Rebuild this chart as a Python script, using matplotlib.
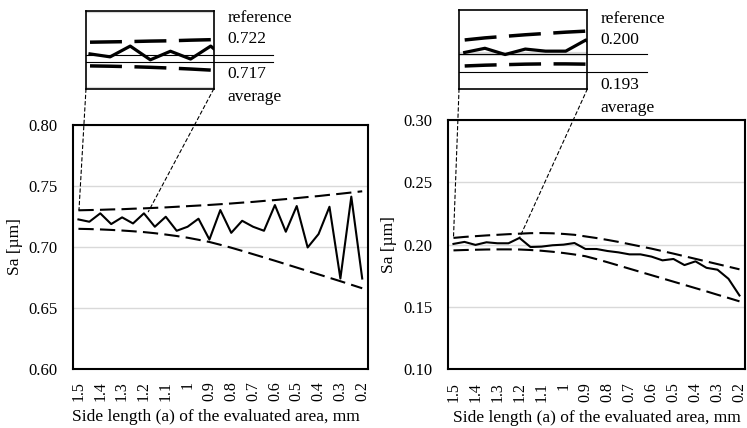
import matplotlib
matplotlib.use("Agg")
import matplotlib.pyplot as plt
from matplotlib.patches import ConnectionPatch

plt.rcParams['font.family'] = ['Liberation Serif', 'DejaVu Serif']
plt.rcParams['lines.scale_dashes'] = False

# side length of the evaluated area, mm (1.5 ... 0.2, step 0.05)
side_length = [1.5, 1.45, 1.4, 1.35, 1.3, 1.25, 1.2, 1.15, 1.1, 1.05, 1.0, 0.95, 0.9,
               0.85, 0.8, 0.75, 0.7, 0.65, 0.6, 0.55, 0.5, 0.45, 0.4, 0.35, 0.3, 0.25, 0.2]
tick_labels = ["1.5", "1.4", "1.3", "1.2", "1.1", "1", "0.9", "0.8", "0.7",
               "0.6", "0.5", "0.4", "0.3", "0.2"]

# left chart
sa_left = [0.7225, 0.7206, 0.7275, 0.7187, 0.7242, 0.7192, 0.7275, 0.7165, 0.7247,
           0.7132, 0.7165, 0.7231, 0.7060, 0.7302, 0.7115, 0.7214, 0.7165, 0.7132,
           0.7343, 0.7124, 0.7335, 0.6995, 0.7105, 0.7329, 0.6740, 0.7412, 0.6740]
upper_left = [0.7300, 0.7302, 0.7304, 0.7307, 0.7309, 0.7313, 0.7316, 0.7320, 0.7324,
              0.7329, 0.7334, 0.7339, 0.7344, 0.7350, 0.7356, 0.7363, 0.7369, 0.7377,
              0.7384, 0.7392, 0.7400, 0.7409, 0.7417, 0.7427, 0.7436, 0.7446, 0.7456]
lower_left = [0.7148, 0.7146, 0.7143, 0.7139, 0.7134, 0.7128, 0.7121, 0.7112, 0.7101,
              0.7089, 0.7075, 0.7058, 0.7040, 0.7017, 0.6993, 0.6967, 0.6940, 0.6913,
              0.6886, 0.6858, 0.6830, 0.6802, 0.6774, 0.6746, 0.6718, 0.6689, 0.6660]
ref_left = 0.722
avg_left = 0.717

# right chart
sa_right = [0.2006, 0.2022, 0.1998, 0.2019, 0.2011, 0.2011, 0.2054, 0.1981, 0.1984,
            0.1995, 0.2000, 0.2013, 0.1965, 0.1965, 0.1949, 0.1938, 0.1922, 0.1922,
            0.1904, 0.1874, 0.1885, 0.1836, 0.1866, 0.1814, 0.1799, 0.1726, 0.1592]
upper_right = [0.2054, 0.2062, 0.2068, 0.2074, 0.2079, 0.2084, 0.2088, 0.2092, 0.2093,
               0.2091, 0.2086, 0.2079, 0.2066, 0.2053, 0.2038, 0.2022, 0.2004, 0.1986,
               0.1968, 0.1948, 0.1928, 0.1907, 0.1886, 0.1865, 0.1844, 0.1823, 0.1802]
lower_right = [0.1954, 0.1957, 0.1959, 0.1961, 0.1962, 0.1962, 0.1961, 0.1957, 0.1951,
               0.1943, 0.1933, 0.1921, 0.1907, 0.1884, 0.1859, 0.1833, 0.1807, 0.1781,
               0.1755, 0.1729, 0.1703, 0.1677, 0.1651, 0.1625, 0.1598, 0.1572, 0.1545]
ref_right = 0.200
avg_right = 0.193

fig = plt.figure(figsize=(7.47, 4.28), dpi=100)

x = list(range(len(side_length)))
grid_c = '#d9d9d9'


def main_panel(rect, sa, up, lo, yticks, xlab_x, ylab_x):
    ax = fig.add_axes(rect)
    ax.plot(x, up, color='black', lw=1.5, dashes=(11, 4.5), zorder=3)
    ax.plot(x, lo, color='black', lw=1.5, dashes=(11, 4.5), zorder=3)
    ax.plot(x, sa, color='black', lw=1.5, zorder=4)
    ax.set_xlim(-0.5, len(x) - 0.5)
    ax.set_ylim(yticks[0], yticks[-1])
    ax.set_yticks(yticks)
    ax.set_yticklabels(["%.2f" % v for v in yticks], fontsize=12)
    ax.set_xticks(x[::2])
    ax.set_xticklabels(tick_labels, rotation=90, fontsize=11.5)
    ax.tick_params(axis='both', length=0)
    ax.tick_params(axis='y', pad=11)
    ax.tick_params(axis='x', pad=9)
    ax.yaxis.grid(True, color=grid_c, lw=1)
    ax.set_axisbelow(True)
    for s in ax.spines.values():
        s.set_linewidth(1.5)
        s.set_color('black')
    ax.set_xlabel("Side length (a) of the evaluated area, mm", fontsize=12.5, va='center')
    ax.xaxis.set_label_coords(xlab_x, -0.197)
    ax.set_ylabel("Sa [\u00b5m]", fontsize=12.5, va='center')
    ax.yaxis.set_label_coords(ylab_x, 0.5)
    return ax


def inset_panel(rect, sa, up, lo, xlim, ylim, yticks, ref, avg, line_len):
    ai = fig.add_axes(rect)
    ai.plot(x, up, color='black', lw=2.5, dashes=(23, 9))
    ai.plot(x, lo, color='black', lw=2.5, dashes=(23, 9))
    ai.plot(x, sa, color='black', lw=2.3)
    ai.set_xlim(*xlim)
    ai.set_ylim(*ylim)
    ai.set_yticks(yticks)
    ai.yaxis.grid(True, color=grid_c, lw=3)
    ai.set_axisbelow(True)
    ai.set_xticks([])
    ai.tick_params(axis='y', length=0, labelleft=False)
    for s in ai.spines.values():
        s.set_linewidth(1.2)
        s.set_color('black')
    ai.axhline(ref, xmin=0, xmax=line_len, color='black', lw=0.8, clip_on=False)
    ai.axhline(avg, xmin=0, xmax=line_len, color='black', lw=0.8, clip_on=False)
    return ai


ax1 = main_panel([0.0977, 0.1386, 0.3945, 0.5693], sa_left, upper_left, lower_left,
                 [0.60, 0.65, 0.70, 0.75, 0.80], 0.485, -0.197)
ax2 = main_panel([0.5997, 0.1372, 0.3976, 0.5824], sa_right, upper_right, lower_right,
                 [0.10, 0.15, 0.20, 0.25, 0.30], 0.503, -0.200)

in1 = inset_panel([0.1151, 0.7921, 0.1710, 0.1822], sa_left, upper_left, lower_left,
                  (-0.2, 6.15), (0.70395, 0.7394), [0.70, 0.75], ref_left, avg_left, 1.464)
in2 = inset_panel([0.6145, 0.7921, 0.1718, 0.1853], sa_right, upper_right, lower_right,
                  (-0.28, 6.07), (0.18655, 0.21705), [0.20], ref_right, avg_right, 1.463)

# annotation texts
for tx, ys, labels in [(0.3048, [0.958, 0.909, 0.827, 0.774],
                        ["reference", "%.3f" % ref_left, "%.3f" % avg_left, "average"]),
                       (0.8041, [0.955, 0.9065, 0.8014, 0.747],
                        ["reference", "%.3f" % ref_right, "%.3f" % avg_right, "average"])]:
    for yy, t in zip(ys, labels):
        fig.text(tx, yy, t, fontsize=12.5, ha='left', va='center')

# zoom connectors
for ai, ax, pA, pB in [(in1, ax1, (0, 0), (0.05, 0.7302)),
                       (in1, ax1, (1, 0), (6.4, 0.7288)),
                       (in2, ax2, (0, 0), (0, 0.2054)),
                       (in2, ax2, (1, 0), (6, 0.2054))]:
    cp = ConnectionPatch(xyA=pA, coordsA=ai.transAxes, xyB=pB, coordsB=ax.transData,
                         color='black', lw=0.8, linestyle=(0, (2.5, 2)), zorder=10)
    fig.add_artist(cp)

fig.savefig("out.png", dpi=100)
